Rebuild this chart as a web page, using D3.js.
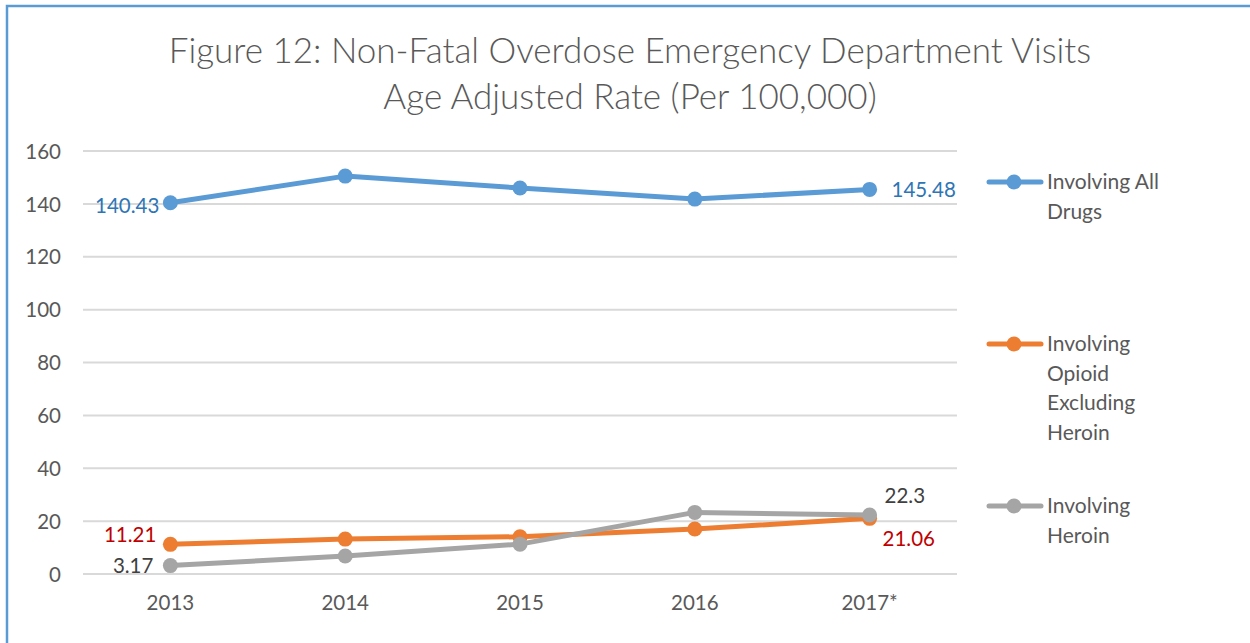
<!DOCTYPE html>
<html><head><meta charset="utf-8">
<script src="https://cdn.jsdelivr.net/npm/d3@7"></script>
<style>body{margin:0;background:#fff}svg{display:block}text{font-family:Lato,"Open Sans",sans-serif}</style>
</head><body><svg id="c" width="1250" height="643"></svg>
<script>
const categories = ["2013","2014","2015","2016","2017*"];
const allDrugs = [140.43,150.5,146.0,141.8,145.48];
const opioidExHeroin = [11.21,13.2,14.1,17.0,21.06];
const heroin = [3.17,6.8,11.3,23.3,22.3];
const yTicks = [0,20,40,60,80,100,120,140,160];
const seriesNames = [["Involving All","Drugs"],["Involving","Opioid","Excluding","Heroin"],["Involving","Heroin"]];
const titleLines = ["Figure 12: Non-Fatal Overdose Emergency Department Visits","Age Adjusted Rate (Per 100,000)"];

const svg = d3.select("#c");
svg.append("rect").attr("x",7).attr("y",6).attr("width",1260).attr("height",660)
  .attr("fill","#fff").attr("stroke","#5B9BD5").attr("stroke-width",2.5);

const x = d3.scaleBand().domain(categories).range([83,957]);
const y = d3.scaleLinear().domain([0,160]).range([574,151]);

svg.append("g").selectAll("text").data(titleLines).join("text")
  .attr("x",630).attr("y",(d,i)=>63+i*46).attr("text-anchor","middle")
  .attr("font-size",35).attr("fill","#595959").attr("font-weight",300).text(d=>d);

svg.append("g").selectAll("line").data(yTicks).join("line")
  .attr("x1",83).attr("x2",957).attr("y1",d=>y(d)).attr("y2",d=>y(d))
  .attr("stroke","#d9d9d9").attr("stroke-width",2);

const yAxis = svg.append("g").attr("transform","translate(61,0)")
  .call(d3.axisLeft(y).tickValues(yTicks).tickSize(0).tickPadding(0));
yAxis.select(".domain").remove();
yAxis.selectAll("text").attr("font-size",20.5).attr("fill","#595959").attr("dy","0.35em");

const xAxis = svg.append("g").attr("transform","translate(0,594)")
  .call(d3.axisBottom(x).tickSize(0).tickPadding(0));
xAxis.select(".domain").remove();
xAxis.selectAll("text").attr("font-size",20.5).attr("fill","#595959").attr("dy","0.8em");

const series = [
  {v:allDrugs,c:"#5B9BD5"},
  {v:opioidExHeroin,c:"#ED7D31"},
  {v:heroin,c:"#A5A5A5"}
];
const line = d3.line().x((d,i)=>x(categories[i])+x.bandwidth()/2).y(d=>y(d));
series.forEach(s=>{
  const g = svg.append("g");
  g.append("path").attr("d",line(s.v)).attr("fill","none").attr("stroke",s.c).attr("stroke-width",5).attr("stroke-linejoin","round").attr("stroke-linecap","round");
  g.selectAll("circle").data(s.v).join("circle")
    .attr("cx",(d,i)=>x(categories[i])+x.bandwidth()/2).attr("cy",d=>y(d)).attr("r",7.5).attr("fill",s.c);
});

const cx = i=>x(categories[i])+x.bandwidth()/2;
const labels = [
  {s:0,i:0,dx:-11,dy:10,a:"end",c:"#2E75B6"},
  {s:0,i:4,dx:22,dy:8,a:"start",c:"#2E75B6"},
  {s:1,i:0,dx:-14,dy:-2,a:"end",c:"#C00000"},
  {s:2,i:0,dx:-17,dy:7,a:"end",c:"#404040"},
  {s:2,i:4,dx:15,dy:-12,a:"start",c:"#404040"},
  {s:1,i:4,dx:13,dy:28,a:"start",c:"#C00000"}
];
svg.append("g").selectAll("text").data(labels).join("text")
  .attr("x",d=>cx(d.i)+d.dx).attr("y",d=>y(series[d.s].v[d.i])+d.dy)
  .attr("text-anchor",d=>d.a).attr("font-size",20.5).attr("fill",d=>d.c)
  .text(d=>String(series[d.s].v[d.i]));

const legY = [182,344,506];
const leg = svg.append("g");
series.forEach((s,k)=>{
  const g = leg.append("g").attr("transform",`translate(0,${legY[k]})`);
  g.append("line").attr("x1",989).attr("x2",1041).attr("y1",0).attr("y2",0).attr("stroke",s.c).attr("stroke-width",5).attr("stroke-linecap","round");
  g.append("circle").attr("cx",1014).attr("cy",0).attr("r",7.5).attr("fill",s.c);
  g.selectAll("text").data(seriesNames[k]).join("text").attr("x",1047).attr("y",(d,i)=>i*29.5).attr("dy","0.35em")
    .attr("font-size",21).attr("fill","#595959").text(d=>d);
});
</script></body></html>
